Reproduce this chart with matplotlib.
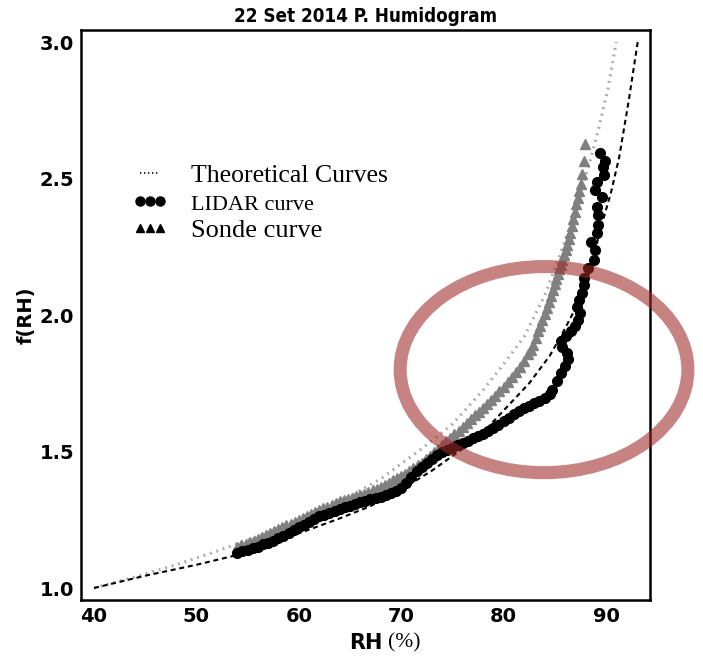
import matplotlib.pyplot as plt
from matplotlib.lines import Line2D
from matplotlib.patches import Ellipse

# theoretical curves
theo_dot_rh = [40, 44, 48, 52, 56, 60, 64, 68, 72, 75, 78, 80, 82, 84, 85.5, 87, 88.2, 89.2, 90.2, 91.0]
theo_dot_f = [1.00, 1.04, 1.085, 1.135, 1.19, 1.245, 1.315, 1.40, 1.51, 1.60, 1.725, 1.82, 1.92, 2.07,
              2.22, 2.38, 2.53, 2.67, 2.83, 3.0]

theo_dash_rh = [40, 45, 50, 55, 60, 64, 67, 70, 73, 76, 78.5, 80.5, 82.5, 84.5, 86, 87.5, 88.5, 89.5,
                90.5, 91.3, 92.2, 93.1]
theo_dash_f = [1.00, 1.045, 1.085, 1.13, 1.20, 1.255, 1.30, 1.36, 1.43, 1.51, 1.59, 1.67, 1.75, 1.85,
               1.95, 2.06, 2.17, 2.32, 2.45, 2.58, 2.78, 3.0]

# sonde humidogram
sonde_rh = [54.0, 54.4, 54.8, 55.2, 55.6, 56.0, 56.4, 56.8, 57.2, 57.6, 58.0, 58.4, 58.8, 59.2, 59.6,
            60.0, 60.4, 60.8, 61.2, 61.6, 62.0, 62.4, 62.8, 63.2, 63.6, 64.0, 64.4, 64.8, 65.2, 65.6,
            66.0, 66.4, 66.8, 67.2, 67.6, 68.0, 68.4, 68.8, 69.2, 69.6, 70.0, 70.4, 70.8, 71.2, 71.6,
            72.0, 72.4, 72.8, 73.2, 73.6, 74.0, 74.4, 74.8, 75.2, 75.6, 76.0, 76.4, 76.8, 77.2, 77.6,
            78.0, 78.4, 78.8, 79.2, 79.6, 80.0, 80.4, 80.8, 81.2, 81.6, 82.0,
            82.4, 82.65, 82.9, 83.15, 83.4, 83.6, 83.8, 84.0, 84.2, 84.4, 84.6, 84.8, 85.0, 85.15, 85.3,
            85.45, 85.6, 85.75, 85.9, 86.05, 86.2, 86.35, 86.5, 86.65, 86.8, 86.95, 87.1, 87.25, 87.4,
            87.55, 87.7, 87.85, 88.0]
sonde_f = [1.150, 1.156, 1.162, 1.168, 1.174, 1.180, 1.187, 1.194, 1.201, 1.208, 1.215, 1.222, 1.229,
           1.236, 1.243, 1.250, 1.257, 1.264, 1.271, 1.278, 1.285, 1.292, 1.298, 1.305, 1.311, 1.317,
           1.322, 1.326, 1.331, 1.336, 1.340, 1.346, 1.352, 1.358, 1.364, 1.371, 1.378, 1.386, 1.394,
           1.402, 1.410, 1.419, 1.429, 1.439, 1.449, 1.459, 1.471, 1.484, 1.497, 1.511, 1.525, 1.538,
           1.551, 1.564, 1.577, 1.590, 1.604, 1.618, 1.632, 1.646, 1.660, 1.675, 1.690, 1.705, 1.720,
           1.735, 1.754, 1.773, 1.791, 1.810, 1.833,
           1.858, 1.873, 1.890, 1.915, 1.940, 1.960, 1.980, 2.003, 2.025, 2.048, 2.070, 2.093, 2.115,
           2.133, 2.150, 2.168, 2.185, 2.203, 2.220, 2.238, 2.256, 2.278, 2.300, 2.325, 2.350, 2.378,
           2.405, 2.430, 2.455, 2.480, 2.515, 2.565, 2.625]

# lidar humidogram
lidar_rh = [54.0, 54.5, 55.0, 55.5, 56.0, 56.5, 57.0, 57.5, 58.0, 58.5, 59.0, 59.5, 60.0, 60.5, 61.0,
            61.5, 62.0, 62.5, 63.0, 63.5, 64.0, 64.5, 65.0, 65.5, 66.0, 66.5, 67.0, 67.5, 68.0, 68.5,
            69.0, 69.5, 70.0, 70.5, 71.0, 71.5, 72.0, 72.5, 73.0, 73.5, 74.0, 74.5, 75.0, 75.5, 76.0,
            76.5, 77.0, 77.5, 78.0, 78.5, 79.0, 79.5, 80.0, 80.5, 81.0, 81.5, 82.0, 82.5, 83.0, 83.5,
            84.0, 84.5,
            84.7, 85.2, 85.6, 86.0, 86.3, 86.2, 85.7, 85.6, 86.1, 86.6, 87.0, 87.3, 87.5, 87.2, 87.4,
            87.7, 87.9, 87.9, 88.2, 88.8, 88.9, 88.5, 89.1, 89.2, 89.2, 89.1, 89.6, 88.9, 89.1, 89.8,
            89.7, 89.9, 89.4]
lidar_f = [1.128, 1.135, 1.140, 1.148, 1.152, 1.160, 1.166, 1.172, 1.183, 1.192, 1.200, 1.212, 1.225,
           1.232, 1.243, 1.252, 1.262, 1.268, 1.275, 1.282, 1.289, 1.296, 1.302, 1.309, 1.315, 1.320,
           1.325, 1.330, 1.334, 1.340, 1.348, 1.357, 1.368, 1.385, 1.405, 1.428, 1.445, 1.458, 1.472,
           1.487, 1.498, 1.506, 1.514, 1.523, 1.530, 1.538, 1.548, 1.556, 1.565, 1.575, 1.586, 1.598,
           1.610, 1.624, 1.638, 1.650, 1.660, 1.668, 1.676, 1.686, 1.697, 1.712,
           1.725, 1.758, 1.788, 1.813, 1.839, 1.861, 1.883, 1.905, 1.923, 1.941, 1.960, 1.982, 2.007,
           2.029, 2.055, 2.081, 2.110, 2.136, 2.172, 2.201, 2.238, 2.267, 2.300, 2.330, 2.366, 2.396,
           2.432, 2.458, 2.487, 2.513, 2.542, 2.564, 2.593]

x_ticks = [40, 50, 60, 70, 80, 90]
y_ticks = [1.0, 1.5, 2.0, 2.5, 3.0]

fig = plt.figure(figsize=(7.03, 6.59), dpi=100)
ax = fig.add_axes([0.1152, 0.0895, 0.8094, 0.8649])

ax.plot(theo_dot_rh, theo_dot_f, color="#a8a8a8", linestyle=(0, (0.6, 1.6)), lw=2.2, zorder=1)
ax.plot(theo_dash_rh, theo_dash_f, color="black", linestyle=(0, (2.4, 1.8)), lw=1.5, zorder=1)
ax.plot(sonde_rh, sonde_f, linestyle="none", marker="^", ms=7, color="#808080", zorder=2)
ax.plot(lidar_rh, lidar_f, linestyle="none", marker="o", ms=7, color="black", zorder=3)

# highlight ellipse
ax.add_patch(Ellipse((83.95, 1.80), 28.1, 0.755, fill=False, edgecolor="#a02828",
                     alpha=0.58, lw=9.4, clip_on=False, zorder=5))

ax.set_xlim(38.73, 94.3)
ax.set_ylim(0.956, 3.044)
ax.set_xticks(x_ticks)
ax.set_yticks(y_ticks)
ax.set_xticklabels([str(t) for t in x_ticks])
ax.set_yticklabels(["%.1f" % t for t in y_ticks])
ax.tick_params(length=0, labelsize=14, pad=5)
for lab in ax.get_xticklabels() + ax.get_yticklabels():
    lab.set_fontweight("bold")
for sp in ax.spines.values():
    sp.set_linewidth(1.8)

ax.set_title("22 Set 2014 P. Humidogram", fontsize=13.5, fontweight="bold",
             fontstretch="condensed", pad=6)
xl = ax.set_xlabel("RH", fontsize=15, fontweight="bold", labelpad=5)
ax.annotate("(%)", xy=(1, 0.5), xycoords=xl, xytext=(4, 0), textcoords="offset points",
            va="center", ha="left", fontsize=15.5, family="Liberation Serif")
ax.set_ylabel("f(RH)", fontsize=14, fontweight="bold", labelpad=3)

handles = [
    Line2D([], [], color="black", linestyle=(0, (0.8, 1.6)), lw=1.2),
    Line2D([], [], color="black", linestyle="none", marker="o", ms=6.5),
    Line2D([], [], color="black", linestyle="none", marker="^", ms=5.5),
]
labels = ["Theoretical Curves", "LIDAR curve", "Sonde curve"]
leg = ax.legend(handles, labels, numpoints=3, frameon=False, loc="upper left",
                bbox_to_anchor=(0.09, 0.765), borderaxespad=0, handlelength=1.4,
                handletextpad=0.9, labelspacing=0.18, borderpad=0,
                prop={"family": "Liberation Serif", "size": 18.5})
sizes = [18.5, 16, 19]
for t, s in zip(leg.get_texts(), sizes):
    t.set_fontsize(s)

fig.savefig("out.png", dpi=100)
